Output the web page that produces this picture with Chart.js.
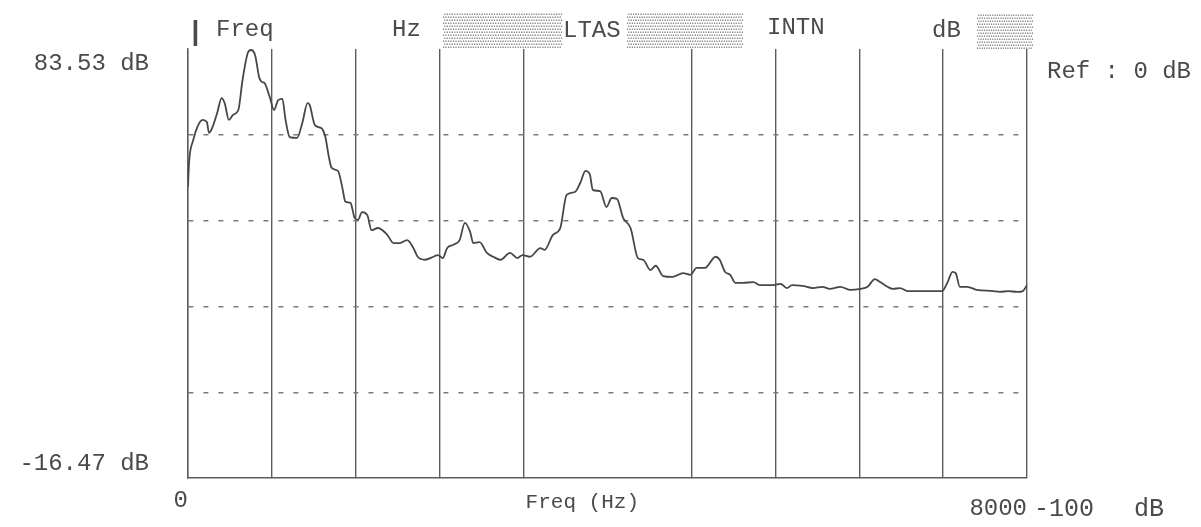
<!DOCTYPE html>
<html>
<head>
<meta charset="utf-8">
<title>LTAS</title>
<script src="https://cdn.jsdelivr.net/npm/chart.js@4"></script>
<style>
  html, body { margin: 0; padding: 0; background: #fff; }
</style>
</head>
<body>
<canvas id="ltas-chart" width="1201" height="527"></canvas>
<script>
// long-term average spectrum
const freqHz = [
  0, 10, 50, 90, 140, 180, 200, 230, 280, 320, 350, 390, 430, 480, 520, 570, 600, 640, 680, 710,
  730, 780, 820, 860, 900, 930, 970, 1040, 1090, 1140, 1160, 1210, 1270, 1310, 1340, 1370, 1430, 1470, 1500, 1550,
  1590, 1620, 1660, 1710, 1750, 1810, 1900, 1960, 2020, 2090, 2150, 2190, 2260, 2340, 2380, 2430, 2470, 2530, 2590, 2640,
  2690, 2720, 2780, 2850, 2910, 2980, 3070, 3140, 3190, 3260, 3360, 3400, 3480, 3550, 3610, 3690, 3740, 3790, 3830, 3860,
  3930, 3990, 4040, 4090, 4150, 4220, 4290, 4340, 4410, 4460, 4530, 4620, 4720, 4790, 4850, 4930, 5030, 5070, 5120, 5170,
  5220, 5290, 5390, 5450, 5580, 5650, 5710, 5760, 5860, 5960, 6050, 6120, 6220, 6310, 6410, 6480, 6550, 6600, 6670, 6720,
  6790, 6860, 7190, 7240, 7290, 7320, 7360, 7430, 7520, 7680, 7740, 7820, 7910, 7960, 8000
];
const levelDb = [
  51.4, 57.0, 62.3, 65.4, 67.0, 66.5, 64.0, 65.1, 68.8, 72.1, 70.9, 67.0, 68.2, 69.3, 76.3, 82.6, 83.3, 82.1, 76.8, 75.8,
  75.6, 72.3, 69.3, 71.6, 71.9, 67.0, 63.0, 62.8, 66.3, 70.9, 70.5, 65.8, 65.1, 63.0, 58.8, 55.8, 55.1, 51.4, 48.0, 47.6,
  44.1, 43.7, 45.5, 44.8, 41.3, 41.8, 40.2, 38.3, 38.3, 39.0, 37.1, 35.1, 34.4, 35.1, 35.5, 34.8, 37.1, 37.9, 39.0, 43.0,
  40.9, 38.3, 38.5, 36.0, 35.1, 34.4, 36.0, 34.8, 35.5, 35.1, 37.1, 36.7, 40.2, 41.8, 49.5, 50.2, 52.3, 55.1, 54.4, 50.7,
  50.4, 46.7, 48.8, 48.6, 44.1, 41.8, 34.8, 34.4, 32.0, 33.0, 30.6, 30.4, 31.3, 30.9, 32.5, 32.5, 35.1, 34.4, 31.6, 30.9,
  29.0, 29.0, 29.2, 28.5, 28.5, 28.8, 27.8, 28.5, 28.3, 27.8, 28.1, 27.6, 28.1, 27.4, 27.6, 28.1, 29.9, 29.2, 28.1, 27.6,
  27.8, 27.1, 27.1, 29.0, 31.6, 31.3, 28.1, 28.1, 27.4, 27.1, 26.9, 27.1, 26.9, 27.1, 28.5
];
const yTicks = [-16.47, 3.53, 23.53, 43.53, 63.53, 83.53];
const xMin = 0;
const xMax = 8000;
const xStep = 800;
const missingGridHz = 4000;   // the centre rule isn't printed on the original

const ink = '#4a4a4a';
const rule = '#5c5c5c';
const mono = '"Liberation Mono", "DejaVu Sans Mono", monospace';
const garble = '\u2592';

// printer header + side notes
const annotations = {
  id: 'annotations',
  afterDraw(chart) {
    const c = chart.ctx;
    c.save();
    c.fillStyle = ink;
    c.textAlign = 'left';
    c.textBaseline = 'alphabetic';

    c.font = 'bold 28px ' + mono;
    c.fillText('|', 187, 40);

    c.font = '24px ' + mono;
    c.fillText('Freq', 216, 36);
    c.fillText('Hz', 392, 36);
    c.fillText('LTAS', 563, 37);
    c.fillText('INTN', 767, 34);
    c.fillText('dB', 932, 37);

    c.fillStyle = '#8a8a8a';
    c.font = '32px ' + mono;
    c.fillText(garble.repeat(8), 443, 40, 119);
    c.fillText(garble.repeat(8), 627, 40, 116);
    c.fillText(garble.repeat(4), 977, 41, 56);

    c.fillStyle = ink;
    c.textBaseline = 'middle';
    c.font = '24px ' + mono;
    c.fillText('Ref : 0 dB', 1047, 72);
    c.font = '25px ' + mono;
    c.fillText('-100', 1034, 509);
    c.fillText('dB', 1134, 509);
    c.restore();
  }
};

const points = freqHz.map((f, i) => ({ x: f, y: levelDb[i] }));

new Chart(document.getElementById('ltas-chart'), {
  type: 'line',
  data: {
    datasets: [{
      data: points,
      borderColor: '#474747',
      borderWidth: 1.8,
      pointRadius: 0,
      fill: false,
      cubicInterpolationMode: 'monotone'
    }]
  },
  options: {
    responsive: false,
    animation: false,
    layout: { padding: { top: 49, right: 174, bottom: 0, left: 0 } },
    plugins: {
      legend: { display: false },
      tooltip: { enabled: false }
    },
    scales: {
      x: {
        type: 'linear',
        min: xMin,
        max: xMax,
        afterFit: s => { s.height = 49; s.paddingLeft = 0; s.paddingRight = 0; },
        ticks: {
          stepSize: xStep,
          autoSkip: false,
          maxRotation: 0,
          align: 'end',
          padding: 19,
          color: ink,
          font: { family: mono, size: 24, lineHeight: '8px' },
          callback: v => v === xMin ? String(xMin) : v === xMax ? ['', String(xMax)] : ''
        },
        grid: {
          drawTicks: false,
          lineWidth: 1.4,
          color: c => (c.tick && c.tick.value === missingGridHz) ? 'rgba(0,0,0,0)' : rule
        },
        border: { display: true, color: rule, width: 1.4 },
        title: {
          display: true,
          text: 'Freq (Hz)    ',
          color: ink,
          font: { family: mono, size: 21 },
          padding: { top: 0, bottom: 12 }
        }
      },
      y: {
        min: yTicks[0],
        max: yTicks[yTicks.length - 1],
        afterFit: s => { s.width = 188; s.paddingTop = 0; s.paddingBottom = 0; },
        afterBuildTicks: s => { s.ticks = yTicks.map(v => ({ value: v })); },
        ticks: {
          padding: 39,
          color: ink,
          font: { family: mono, size: 24, lineHeight: '29px' },
          callback: (v, i) => {
            if (i === yTicks.length - 1) return ['', yTicks[i].toFixed(2) + ' dB'];
            if (i === 0) return [yTicks[i].toFixed(2) + ' dB', ''];
            return '';
          }
        },
        grid: {
          drawTicks: false,
          lineWidth: 1.4,
          color: c => (c.index === 0 || c.index === yTicks.length - 1) ? 'rgba(0,0,0,0)' : '#7a7a7a'
        },
        border: { display: true, color: rule, width: 1.4, dash: [5, 10] }
      }
    }
  },
  plugins: [annotations]
});
</script>
</body>
</html>
